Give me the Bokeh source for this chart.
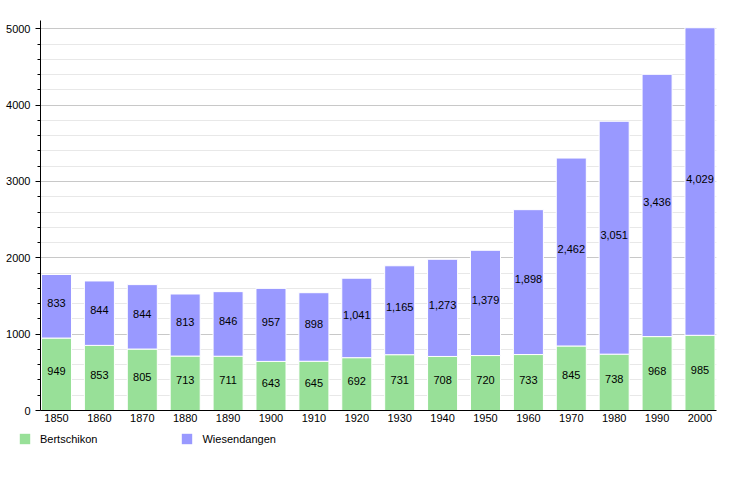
from bokeh.plotting import figure
from bokeh.models import ColumnDataSource, FixedTicker, Range1d, Legend, LegendItem
from bokeh.core.properties import value
from bokeh.embed import file_html
from bokeh.resources import INLINE

years = ["1850", "1860", "1870", "1880", "1890", "1900", "1910", "1920",
         "1930", "1940", "1950", "1960", "1970", "1980", "1990", "2000"]
bertschikon = [949, 853, 805, 713, 711, 643, 645, 692, 731, 708, 720, 733, 845, 738, 968, 985]
wiesendangen = [833, 844, 844, 813, 846, 957, 898, 1041, 1165, 1273, 1379, 1898, 2462, 3051, 3436, 4029]
series_names = ["Bertschikon", "Wiesendangen"]
y_major = [0, 1000, 2000, 3000, 4000, 5000]

FONT = "Liberation Sans"
GREEN = "#98e098"
PURPLE = "#9999ff"

idx = list(range(len(years)))
top = [b + w for b, w in zip(bertschikon, wiesendangen)]
src = ColumnDataSource(dict(
    x=idx,
    b=bertschikon,
    w=wiesendangen,
    zero=[0] * len(idx),
    top=top,
    b_mid=[b / 2 for b in bertschikon],
    w_mid=[b + w / 2 for b, w in zip(bertschikon, wiesendangen)],
    b_lab=[f"{v:,}" for v in bertschikon],
    w_lab=[f"{v:,}" for v in wiesendangen],
))

p = figure(width=734, height=430, output_backend="svg", toolbar_location=None,
           x_range=Range1d(-0.373, 15.385), y_range=Range1d(0, 5109),
           min_border_left=40, min_border_right=18, min_border_top=20, min_border_bottom=20)
p.outline_line_color = None
p.background_fill_color = "white"
p.border_fill_color = "white"

p.vbar(x="x", bottom="zero", top="b", width=0.7, source=src,
       fill_color=GREEN, line_color="white", line_width=1)
p.vbar(x="x", bottom="b", top="top", width=0.7, source=src,
       fill_color=PURPLE, line_color="white", line_width=1)

for ycol, tcol in (("b_mid", "b_lab"), ("w_mid", "w_lab")):
    p.text(x="x", y=ycol, text=tcol, source=src, text_align="center",
           text_baseline="middle", y_offset=-3, text_color="black",
           text_font=value(FONT), text_font_size="11px")

# axes
minor = [v for v in range(0, 5001, 200) if v % 1000 != 0]
p.yaxis.ticker = FixedTicker(ticks=y_major, minor_ticks=minor)
p.yaxis.major_tick_out = 5
p.yaxis.major_tick_in = 0
p.yaxis.minor_tick_out = 3
p.yaxis.minor_tick_in = 0
p.yaxis.major_label_standoff = 5
p.yaxis.axis_line_color = "black"
p.yaxis.major_tick_line_color = "black"
p.yaxis.minor_tick_line_color = "black"
p.yaxis.major_label_text_font = FONT
p.yaxis.major_label_text_font_size = "11px"
p.yaxis.major_label_text_color = "black"

p.xaxis.ticker = FixedTicker(ticks=idx)
p.xaxis.major_label_overrides = {i: y for i, y in zip(idx, years)}
p.xaxis.major_tick_out = 0
p.xaxis.major_tick_in = 0
p.xaxis.minor_tick_line_color = None
p.xaxis.major_label_standoff = 3
p.xaxis.axis_line_color = "black"
p.xaxis.major_label_text_font = FONT
p.xaxis.major_label_text_font_size = "11px"
p.xaxis.major_label_text_color = "black"

p.xgrid.grid_line_color = None
p.ygrid.ticker = FixedTicker(ticks=y_major, minor_ticks=minor)
p.ygrid.grid_line_color = "#c8c8c8"
p.ygrid.minor_grid_line_color = "#e8e8e8"

# legend strip below the chart (separate root, so its frame is not aligned to p)
lg = figure(width=734, height=54, output_backend="svg", toolbar_location=None,
            x_range=Range1d(0, 1), y_range=Range1d(0, 1),
            x_axis_location=None, y_axis_location=None,
            min_border=0, min_border_left=0, min_border_right=0,
            min_border_top=0, min_border_bottom=0)
lg.grid.grid_line_color = None
lg.outline_line_color = None
proxy = ColumnDataSource(dict(x=[0], top=[0]))
l1 = lg.vbar(x="x", top="top", width=0, source=proxy, fill_color=GREEN, line_color=None)
l2 = lg.vbar(x="x", top="top", width=0, source=proxy, fill_color=PURPLE, line_color=None)

legend = Legend(items=[LegendItem(label=series_names[0], renderers=[l1], index=0),
                       LegendItem(label=series_names[1], renderers=[l2], index=0)],
                orientation="horizontal", location=(18, 39),
                glyph_width=13, glyph_height=13, label_standoff=9, spacing=83,
                padding=0, margin=0, border_line_color=None,
                background_fill_alpha=0,
                label_text_font=FONT, label_text_font_size="11px",
                label_text_color="black", label_height=13)
lg.add_layout(legend, "center")

open("out.html", "w").write(file_html([p, lg], INLINE))
